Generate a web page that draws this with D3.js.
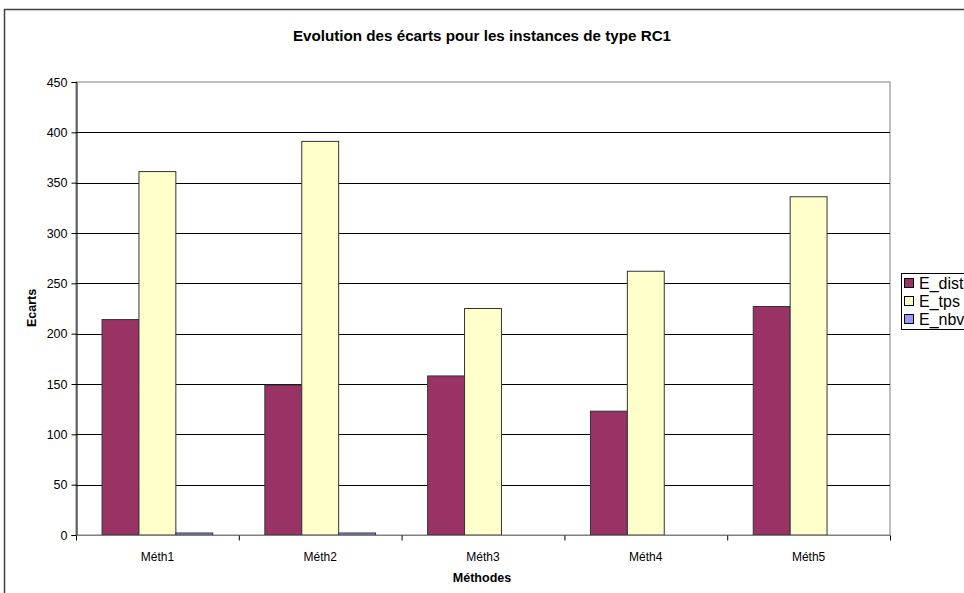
<!DOCTYPE html>
<html><head><meta charset="utf-8">
<script src="https://cdn.jsdelivr.net/npm/d3@7"></script>
<style>body{margin:0;background:#fff;} svg{display:block;font-family:"Liberation Sans",Arial,sans-serif;}</style>
</head><body><svg id="c" width="964" height="593"></svg>
<script>
const categories = ["Méth1","Méth2","Méth3","Méth4","Méth5"];
const seriesNames = ["E_dist","E_tps","E_nbv"];
const E_dist = [214, 149, 158, 123, 227];
const E_tps = [361, 391, 225, 262, 336];
const E_nbv = [2, 2, 0, 0, 0];
const yTicks = [0,50,100,150,200,250,300,350,400,450];
const colors = ["#993366","#FFFFCC","#9999FF"];
const seriesVals = [E_dist, E_tps, E_nbv];

const svg = d3.select("#c");
svg.append("rect").attr("x",4.5).attr("y",9.5).attr("width",980).attr("height",600)
  .attr("fill","none").attr("stroke","#404040").attr("stroke-width",1.5);

const L=76, R=890, T=82, B=535;
const y = d3.scaleLinear().domain([0,450]).range([B,T]);
const x0 = d3.scaleBand().domain(categories).range([L,R]).paddingInner(0.32).paddingOuter(0.16);
const x1 = d3.scaleBand().domain(seriesNames).range([0,x0.bandwidth()]);
const step = x0.step();

svg.append("rect").attr("x",L).attr("y",T).attr("width",R-L).attr("height",B-T)
  .attr("fill","#fff").attr("stroke","#808080").attr("stroke-width",1);
svg.append("g").selectAll("line").data(yTicks.filter(d=>d>0 && d<450)).join("line")
  .attr("x1",L).attr("x2",R).attr("y1",d=>Math.round(y(d))+0.5).attr("y2",d=>Math.round(y(d))+0.5)
  .attr("stroke","#000").attr("stroke-width",1);

const g = svg.append("g");
categories.forEach((c,i)=>{
  seriesNames.forEach((s,j)=>{
    const v = seriesVals[j][i];
    if (v<=0) return;
    g.append("rect").attr("x",x0(c)+x1(s)).attr("y",y(v)).attr("width",x1.bandwidth())
      .attr("height",y(0)-y(v)).attr("fill",colors[j]).attr("stroke","#333").attr("stroke-width",1);
  });
});

const ya = svg.append("g").attr("transform",`translate(${L+0.5},0)`)
  .call(d3.axisLeft(y).tickValues(yTicks).tickSize(5).tickPadding(4));
ya.select(".domain").attr("stroke","#000");
ya.selectAll("text").attr("font-size",12.5).attr("fill","#000").attr("font-family","Liberation Sans, Arial, sans-serif");
const xa = svg.append("g").attr("transform",`translate(0,${B+0.5})`);
xa.append("line").attr("x1",L).attr("x2",R).attr("stroke","#808080");
const bounds = categories.map(c=>x0(c)-step*0.16).concat([R]);
xa.selectAll("line.t").data(bounds).join("line").attr("class","t")
  .attr("x1",d=>d+0.5).attr("x2",d=>d+0.5).attr("y1",0).attr("y2",5).attr("stroke","#000");
xa.selectAll("text").data(categories).join("text")
  .attr("x",c=>x0(c)+x0.bandwidth()/2).attr("y",25).attr("text-anchor","middle")
  .attr("font-size",12).text(c=>c);

svg.append("text").attr("x",482).attr("y",41).attr("text-anchor","middle")
  .attr("font-size",15.2).attr("font-weight","bold").text("Evolution des écarts pour les instances de type RC1");
svg.append("text").attr("transform","translate(36,308) rotate(-90)").attr("text-anchor","middle")
  .attr("font-size",12.5).attr("font-weight","bold").text("Ecarts");
svg.append("text").attr("x",482).attr("y",582).attr("text-anchor","middle")
  .attr("font-size",12.5).attr("font-weight","bold").text("Méthodes");

const lg = svg.append("g");
lg.append("rect").attr("x",901.5).attr("y",273.5).attr("width",80).attr("height",56)
  .attr("fill","#fff").attr("stroke","#000");
seriesNames.forEach((s,j)=>{
  const yy = 283 + j*18;
  lg.append("rect").attr("x",904.5).attr("y",yy-4.5).attr("width",9).attr("height",9)
    .attr("fill",colors[j]).attr("stroke","#000");
  lg.append("text").attr("x",919).attr("y",yy+6).attr("font-size",16).text(s);
});
</script></body></html>
